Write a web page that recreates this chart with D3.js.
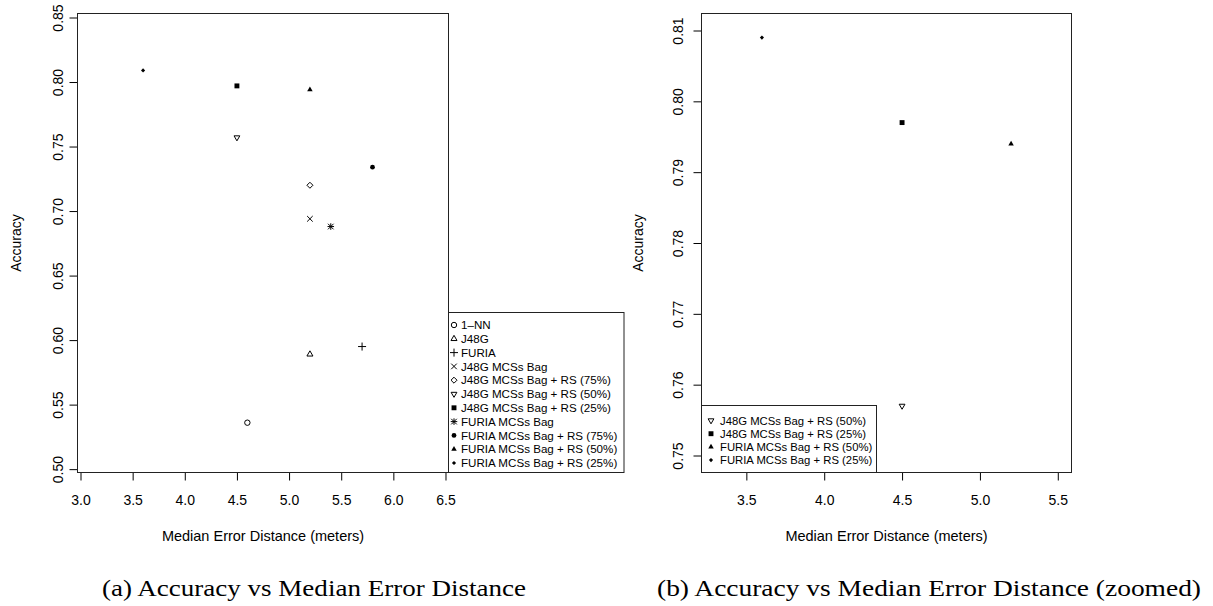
<!DOCTYPE html>
<html>
<head>
<meta charset="utf-8">
<script src="https://cdn.jsdelivr.net/npm/d3@7"></script>
<style>
  body { margin: 0; background: #fff; }
  svg { display: block; font-family: "Liberation Sans", Arial, sans-serif; }
</style>
</head>
<body>
<svg width="1213" height="606"></svg>
<script>
// Data
var methods = [
    "1\u2013NN", "J48G", "FURIA", "J48G MCSs Bag",
    "J48G MCSs Bag + RS (75%)", "J48G MCSs Bag + RS (50%)", "J48G MCSs Bag + RS (25%)",
    "FURIA MCSs Bag", "FURIA MCSs Bag + RS (75%)", "FURIA MCSs Bag + RS (50%)", "FURIA MCSs Bag + RS (25%)"
];
var medianError = [4.6, 5.2, 5.7, 5.2, 5.2, 4.5, 4.5, 5.4, 5.8, 5.2, 3.6];
var accuracy = [0.536, 0.589, 0.595, 0.694, 0.720, 0.757, 0.797, 0.688, 0.734, 0.794, 0.809];
var zoomedMethods = ["J48G MCSs Bag + RS (50%)", "J48G MCSs Bag + RS (25%)",
    "FURIA MCSs Bag + RS (50%)", "FURIA MCSs Bag + RS (25%)"];

var xTicksA = [3.0, 3.5, 4.0, 4.5, 5.0, 5.5, 6.0, 6.5];
var yTicksA = [0.50, 0.55, 0.60, 0.65, 0.70, 0.75, 0.80, 0.85];
var xTicksB = [3.5, 4.0, 4.5, 5.0, 5.5];
var yTicksB = [0.75, 0.76, 0.77, 0.78, 0.79, 0.80, 0.81];

var xTitle = "Median Error Distance (meters)";
var yTitle = "Accuracy";
var captionA = "(a) Accuracy vs Median Error Distance";
var captionB = "(b) Accuracy vs Median Error Distance (zoomed)";

// R-like plotting symbols, one per method (pch 1,2,3,4,5,6,15,8,16,17,18)
var markerStyle = [
    { type: d3.symbolCircle, size: 23, fill: false },
    { type: d3.symbolTriangle2, size: 26, fill: false },
    { type: d3.symbolPlus, size: 23, fill: false },
    { type: d3.symbolTimes, size: 22, fill: false },
    { type: d3.symbolDiamond2, size: 23, fill: false },
    { type: d3.symbolTriangle2, size: 24, fill: false, rotate: 180 },
    { type: d3.symbolSquare, size: 24, fill: true },
    { type: "star", size: 0, fill: false },
    { type: d3.symbolCircle, size: 18, fill: true },
    { type: d3.symbolTriangle, size: 13, fill: true },
    { type: d3.symbolDiamond2, size: 11, fill: true }
];

var svg = d3.select("svg");

function drawMarker(g, i, cx, cy) {
    var m = markerStyle[i];
    // pch 8 is a plus and a cross drawn on top of each other
    var parts = m.type === "star"
        ? [[d3.symbolPlus, 16], [d3.symbolTimes, 22]]
        : [[m.type, m.size]];
    parts.forEach(function(pt) {
        g.append("path")
            .attr("d", d3.symbol().type(pt[0]).size(pt[1])())
            .attr("transform", "translate(" + cx + "," + cy + ")" + (m.rotate ? " rotate(" + m.rotate + ")" : ""))
            .attr("fill", m.fill ? "#000" : "none")
            .attr("stroke", m.fill ? "none" : "#000")
            .attr("stroke-width", 1);
    });
}

// One scatter panel
function createPanel(p) {
    var g = svg.append("g");
    var x = d3.scaleLinear().domain(p.xDomain).range([p.left, p.right]);
    var y = d3.scaleLinear().domain(p.yDomain).range([p.bottom, p.top]);

    // x axis
    var xa = g.append("g").attr("transform", "translate(0," + p.bottom + ")")
        .call(d3.axisBottom(x).tickValues(p.xTicks).tickSize(8).tickFormat(d3.format(".1f")));
    xa.select(".domain").remove();
    xa.selectAll("text").attr("y", 32.5).attr("dy", 0)
        .attr("font-size", 14).attr("font-family", null).attr("fill", "#000");

    // y axis, labels rotated like R
    var ya = g.append("g").attr("transform", "translate(" + p.left + ",0)")
        .call(d3.axisLeft(y).tickValues(p.yTicks).tickSize(8).tickFormat(d3.format(p.yFormat)));
    ya.select(".domain").remove();
    ya.selectAll("text").attr("transform", "rotate(-90)")
        .attr("x", 0).attr("y", -p.yLabelGap).attr("dy", 0)
        .attr("text-anchor", "middle")
        .attr("font-size", 14).attr("font-family", null).attr("fill", "#000");

    // box
    g.append("rect").attr("x", p.left).attr("y", p.top)
        .attr("width", p.right - p.left).attr("height", p.bottom - p.top)
        .attr("fill", "none").attr("stroke", "#222").attr("stroke-width", 1);

    // titles
    g.append("text").attr("x", (p.left + p.right) / 2).attr("y", 541)
        .attr("text-anchor", "middle").attr("font-size", 14.5).text(xTitle);
    g.append("text").attr("transform", "translate(" + p.yTitleX + "," + (p.top + p.bottom) / 2 + ") rotate(-90)")
        .attr("text-anchor", "middle").attr("font-size", 14).text(yTitle);

    // points
    var idx = p.methods.map(function(m) { return methods.indexOf(m); });
    var pts = g.append("g");
    idx.forEach(function(i) {
        drawMarker(pts, i, x(medianError[i]), y(accuracy[i]));
    });

    // legend
    var lg = g.append("g");
    lg.append("rect").attr("x", p.legend.x0).attr("y", p.legend.y0)
        .attr("width", p.legend.x1 - p.legend.x0).attr("height", p.legend.y1 - p.legend.y0)
        .attr("fill", "#fff").attr("stroke", "#222").attr("stroke-width", 1);
    idx.forEach(function(i, k) {
        var cy = p.legend.firstRow + k * p.legend.step;
        drawMarker(lg, i, p.legend.symX, cy);
        lg.append("text").attr("x", p.legend.textX).attr("y", cy)
            .attr("dy", "0.36em").attr("font-size", p.legend.fontSize).text(methods[i]);
    });
}

createPanel({
    xDomain: [2.9712, 6.5288], yDomain: [0.4974, 0.8531],
    left: 77.5, right: 448.5, top: 13.5, bottom: 472.5,
    xTicks: xTicksA, yTicks: yTicksA, yFormat: ".2f",
    yLabelGap: 15, yTitleX: 21,
    methods: methods,
    legend: { x0: 448.5, x1: 624, y0: 312.5, y1: 472.5, firstRow: 325, step: 13.8,
              symX: 454, textX: 461, fontSize: 11.6 }
});

createPanel({
    xDomain: [3.212, 5.588], yDomain: [0.7476, 0.8124],
    left: 701.5, right: 1071.5, top: 13.5, bottom: 472.5,
    xTicks: xTicksB, yTicks: yTicksB, yFormat: ".2f",
    yLabelGap: 19, yTitleX: 643,
    methods: zoomedMethods,
    legend: { x0: 701.5, x1: 876.5, y0: 405.5, y1: 472.5, firstRow: 420.5, step: 13.2,
              symX: 711, textX: 720, fontSize: 11.3 }
});

// captions
svg.append("text").attr("x", 314).attr("y", 596).attr("text-anchor", "middle")
    .attr("font-family", "'Liberation Serif', 'DejaVu Serif', serif").attr("font-size", 23)
    .attr("textLength", 424).attr("lengthAdjust", "spacingAndGlyphs").text(captionA);
svg.append("text").attr("x", 929).attr("y", 596).attr("text-anchor", "middle")
    .attr("font-family", "'Liberation Serif', 'DejaVu Serif', serif").attr("font-size", 23)
    .attr("textLength", 544).attr("lengthAdjust", "spacingAndGlyphs").text(captionB);
</script>
</body>
</html>
